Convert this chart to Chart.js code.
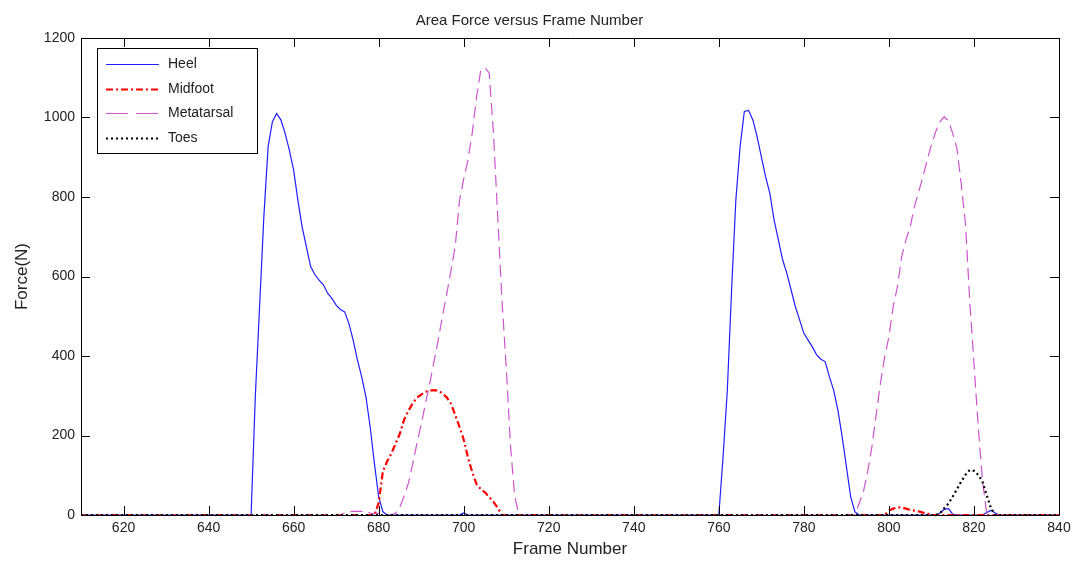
<!DOCTYPE html>
<html>
<head>
<meta charset="utf-8">
<script src="https://cdn.jsdelivr.net/npm/chart.js@4.4.1/dist/chart.umd.min.js"></script>
<style>
  html, body { margin: 0; padding: 0; background: #fff; }
  #wrap { width: 1077px; height: 562px; }
</style>
</head>
<body>
<div id="wrap"><canvas id="forceChart" width="1077" height="562"></canvas></div>
<script>
// ***** Data *****
const frameTicks = [620, 640, 660, 680, 700, 720, 740, 760, 780, 800, 820, 840];
const forceTicks = [0, 200, 400, 600, 800, 1000, 1200];

const heelFrames = [610, 649,
  650, 651, 652, 653, 654, 655, 656, 657, 658, 659, 660, 661, 662, 663, 664, 665, 666,
  667, 668, 669, 670, 671, 672, 673, 674, 675, 676, 677, 678, 679, 680, 681, 682,
  699, 700, 701,
  759, 760, 761, 762, 763, 764, 765, 766, 767, 768, 769, 770, 771, 772, 773, 774, 775,
  776, 777, 778, 779, 780, 781, 782, 783, 784, 785, 786, 787, 788, 789, 790, 791, 792, 793,
  811, 812, 813, 814, 815, 816,
  822, 823, 824, 825, 826,
  840];
const heelForce = [0, 0,
  0, 300, 524, 750, 926, 989, 1010, 994, 960, 918, 868, 792, 725, 675, 625, 605, 591,
  579, 558, 545, 528, 517, 511, 482, 440, 390, 348, 298, 222, 130, 46, 8, 0,
  0, 5, 0,
  0, 0, 147, 314, 566, 792, 926, 1015, 1018, 994, 952, 901, 851, 809, 742, 692, 642,
  608, 566, 524, 491, 457, 440, 423, 403, 392, 386, 348, 314, 264, 197, 122, 46, 8, 0,
  0, 5, 14, 16, 2, 0,
  0, 6, 12, 5, 0,
  0];

const midfootFrames = [610,
  679, 680, 681, 682, 683, 684, 685, 686, 687, 688, 689, 690, 691, 692, 693, 694,
  695, 696, 697, 698, 699, 700, 701, 702, 703, 704, 705, 706, 707, 708, 709,
  799, 800, 801, 802, 803, 804, 805, 806, 807, 808, 809, 810,
  840];
const midfootForce = [0,
  0, 30, 110, 135, 155, 180, 205, 240, 262, 281, 295, 303, 310, 313, 314, 313,
  306, 296, 280, 252, 222, 190, 145, 108, 78, 65, 57, 45, 33, 18, 0,
  0, 11, 16, 19, 19, 16, 13, 11, 9, 6, 4, 0,
  0];

const metaFrames = [610,
  671, 672, 673, 674, 675, 676, 677, 678, 679, 680, 681, 682,
  683, 684, 685, 686, 687, 688, 689, 690, 691, 692,
  693, 694, 695, 696, 697, 698, 699, 700, 701, 702,
  703, 704, 705, 706, 707, 708, 709, 710, 711, 712, 713,
  791, 792, 793, 794, 795, 796, 797, 798, 799, 800, 801, 802, 803, 804, 805, 806, 807,
  808, 809, 810, 811, 812, 813, 814, 815, 816, 817, 818, 819, 820, 821, 822, 823, 824,
  840];
const metaForce = [0,
  0, 5, 8, 9, 9, 9, 8, 5, 3, 5, 3, 0,
  0, 5, 20, 48, 80, 128, 180, 228, 280, 330,
  385, 440, 500, 555, 615, 675, 790, 845, 893, 960,
  1050, 1118, 1125, 1112, 960, 750, 540, 373, 175, 46, 0,
  0, 0, 29, 59, 109, 172, 252, 331, 398, 449, 524, 574, 650, 692, 725, 776, 813,
  851, 893, 931, 964, 989, 1002, 992, 960, 922, 834, 734, 541, 382, 222, 88, 4, 0,
  0];

const toesFrames = [610,
  811, 812, 813, 814, 815, 816, 817, 818, 819, 820, 821, 822, 823, 824, 825,
  840];
const toesForce = [0,
  0, 4, 17, 29, 46, 65, 84, 101, 113, 111, 101, 84, 50, 17, 0,
  0];

const seriesNames = ['Heel', 'Midfoot', 'Metatarsal', 'Toes'];

// ***** Helpers *****
const toPoints = (frames, values) => frames.map((f, i) => ({ x: f, y: values[i] }));

const lineSet = (label, frames, values, color, width, dash, order) => ({
  label: label,
  data: toPoints(frames, values),
  borderColor: color,
  backgroundColor: color,
  borderWidth: width,
  borderDash: dash,
  pointRadius: 0,
  tension: 0,
  clip: 4,
  order: order
});

// inward tick marks and the top/right edges of the axes box
const boxTicks = {
  id: 'boxTicks',
  afterDraw(chart) {
    const { ctx, chartArea: a, scales } = chart;
    const len = 9;
    ctx.save();
    ctx.strokeStyle = '#000';
    ctx.lineWidth = 1;
    ctx.beginPath();
    ctx.rect(a.left + 0.5, a.top + 0.5, a.right - a.left, a.bottom - a.top);
    scales.x.ticks.forEach(t => {
      const px = Math.round(scales.x.getPixelForValue(t.value)) + 0.5;
      ctx.moveTo(px, a.bottom); ctx.lineTo(px, a.bottom - len);
      ctx.moveTo(px, a.top); ctx.lineTo(px, a.top + len);
    });
    scales.y.ticks.forEach(t => {
      const py = Math.round(scales.y.getPixelForValue(t.value)) + 0.5;
      ctx.moveTo(a.left, py); ctx.lineTo(a.left + len, py);
      ctx.moveTo(a.right, py); ctx.lineTo(a.right - len, py);
    });
    ctx.stroke();
    ctx.restore();
  }
};

// legend box drawn inside the plot, upper left
const insideLegend = {
  id: 'insideLegend',
  afterDraw(chart) {
    const { ctx, chartArea: a } = chart;
    const x0 = a.left + 16, y0 = a.top + 10, w = 160, h = 105;
    ctx.save();
    ctx.fillStyle = '#fff';
    ctx.fillRect(x0, y0, w, h);
    ctx.strokeStyle = '#000';
    ctx.lineWidth = 1;
    ctx.strokeRect(x0 + 0.5, y0 + 0.5, w, h);
    ctx.font = '14px "Liberation Sans", Arial, sans-serif';
    ctx.textBaseline = 'middle';
    chart.data.datasets.forEach((ds, i) => {
      const y = y0 + 16 + i * 24.7;
      ctx.strokeStyle = ds.borderColor;
      ctx.lineWidth = ds.borderWidth;
      ctx.setLineDash(ds.label === 'Metatarsal' ? [22, 8] : ds.borderDash);
      ctx.beginPath();
      ctx.moveTo(x0 + 9, Math.round(y) + 0.5);
      ctx.lineTo(x0 + 62, Math.round(y) + 0.5);
      ctx.stroke();
      ctx.setLineDash([]);
      ctx.fillStyle = '#222';
      ctx.fillText(ds.label, x0 + 71, y);
    });
    ctx.restore();
  }
};

// ***** Chart *****
Chart.defaults.font.family = '"Liberation Sans", Arial, sans-serif';
Chart.defaults.color = '#222';

const configChart = {
  type: 'line',
  data: {
    datasets: [
      lineSet(seriesNames[0], heelFrames, heelForce, '#1f1fff', 1.2, [], 3),
      lineSet(seriesNames[1], midfootFrames, midfootForce, '#ff0000', 2.2, [7, 3, 2, 3], 2),
      lineSet(seriesNames[2], metaFrames, metaForce, '#cc55cc', 1.2, [12, 6], 1),
      lineSet(seriesNames[3], toesFrames, toesForce, '#000000', 2.2, [2, 3], 0)
    ]
  },
  options: {
    responsive: false,
    animation: false,
    devicePixelRatio: 1,
    layout: { padding: { left: 0, right: 18, top: 0, bottom: 0 } },
    plugins: {
      legend: { display: false },
      tooltip: { enabled: false },
      title: {
        display: true,
        text: 'Area Force versus Frame Number',
        font: { size: 15, weight: 'normal' },
        color: '#222',
        padding: { top: 12, bottom: 8 }
      }
    },
    scales: {
      x: {
        type: 'linear',
        min: 610,
        max: 840,
        afterBuildTicks: axis => { axis.ticks = frameTicks.map(v => ({ value: v })); },
        afterFit: axis => { axis.height = 47; },
        grid: { display: false, drawTicks: false },
        border: { display: false },
        ticks: { font: { size: 14 }, padding: 5, maxRotation: 0, autoSkip: false, callback: v => String(v) },
        title: {
          display: true,
          text: 'Frame Number',
          font: { size: 17 },
          padding: { top: 0, bottom: 2 }
        }
      },
      y: {
        min: 0,
        max: 1200,
        afterBuildTicks: axis => { axis.ticks = forceTicks.map(v => ({ value: v })); },
        afterFit: axis => { axis.width = 81; },
        grid: { display: false, drawTicks: false },
        border: { display: false },
        ticks: { font: { size: 14 }, padding: 6, callback: v => String(v) },
        title: {
          display: true,
          text: 'Force(N)',
          font: { size: 17 },
          padding: { top: 12, bottom: 0 }
        }
      }
    }
  },
  plugins: [boxTicks, insideLegend]
};

const forceChart = new Chart(document.getElementById('forceChart'), configChart);
</script>
</body>
</html>
